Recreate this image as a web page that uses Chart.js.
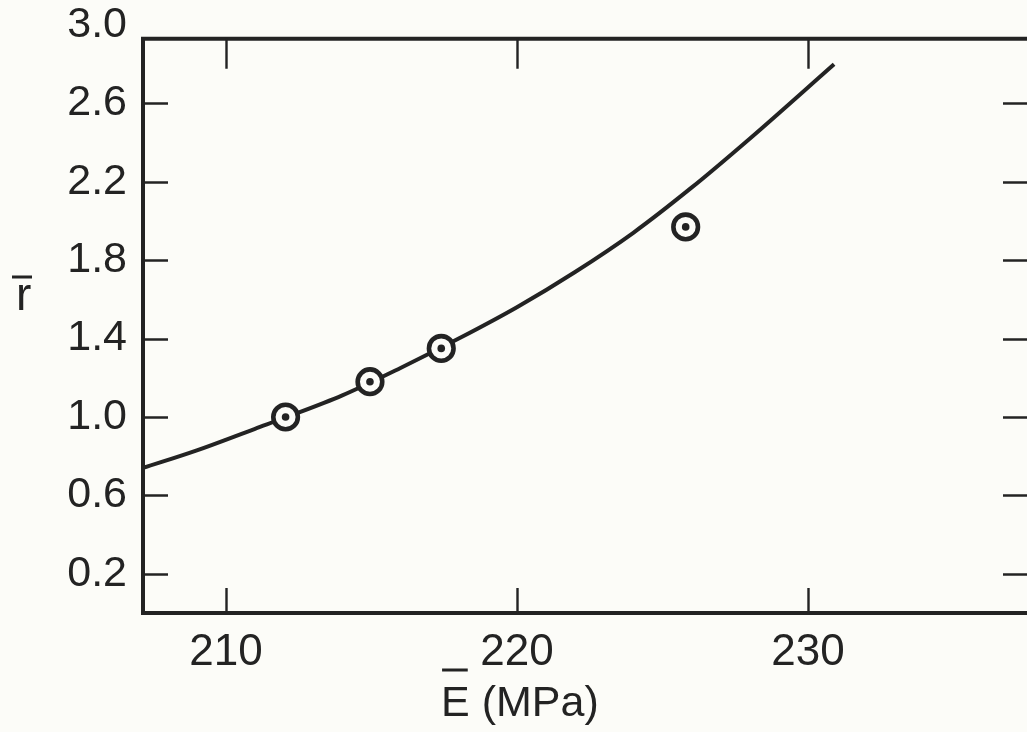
<!DOCTYPE html>
<html>
<head>
<meta charset="utf-8">
<script src="https://cdn.jsdelivr.net/npm/chart.js@4.4.1/dist/chart.umd.min.js"></script>
<style>
  html, body { margin: 0; padding: 0; background: #fcfcf8; overflow: hidden; }
  #wrap { width: 1027px; height: 732px; position: relative; }
</style>
</head>
<body>
<div id="wrap"><canvas id="c" width="1027" height="732"></canvas></div>
<script>
// ---- data ----
const eTicks = [210, 220, 230];                          // x tick labels (MPa)
const rTicks = [0.2, 0.6, 1.0, 1.4, 1.8, 2.2, 2.6, 3.0]; // y tick labels
const rTickMarks = [0.2, 0.6, 1.0, 1.4, 1.8, 2.2, 2.6];  // inward tick marks
const eRange = [207.15, 237.53];
const rRange = [0, 3.0];
const frameTopR = 2.93;                                  // upper frame line

const measuredE = [212.05, 214.95, 217.4, 225.8];
const measuredR = [1.00, 1.18, 1.35, 1.97];

const curveE = [207.15, 209, 211, 212.1, 214, 216, 218, 220, 222, 224, 226, 228, 230.9];
const curveR = [0.74, 0.83, 0.94, 1.00, 1.11, 1.25, 1.40, 1.56, 1.74, 1.94, 2.17, 2.42, 2.80];

const xTitle = 'E (MPa)';
const yTitle = 'r';

// ---- styles ----
const INK = '#232323';
const BG = '#fcfcf8';
const FONT = '"Liberation Sans", Arial, sans-serif';

const measuredPts = measuredE.map((e, i) => ({ x: e, y: measuredR[i] }));
const curvePts = curveE.map((e, i) => ({ x: e, y: curveR[i] }));

const framePlugin = {
  id: 'frame',
  beforeDraw(chart) {
    const ctx = chart.ctx;
    ctx.save();
    ctx.fillStyle = BG;
    ctx.fillRect(0, 0, chart.width, chart.height);
    ctx.restore();
  },
  afterDraw(chart) {
    const ctx = chart.ctx;
    const { left, right, bottom } = chart.chartArea;
    const xs = chart.scales.x, ys = chart.scales.y;
    const top = ys.getPixelForValue(frameTopR);
    ctx.save();
    ctx.strokeStyle = INK;
    ctx.lineCap = 'square';
    // frame
    ctx.lineWidth = 4;
    ctx.beginPath();
    ctx.moveTo(right + 5, top); ctx.lineTo(left, top); ctx.lineTo(left, bottom); ctx.lineTo(right + 5, bottom);
    ctx.stroke();
    // ticks
    ctx.lineWidth = 2.4;
    ctx.lineCap = 'butt';
    ctx.beginPath();
    eTicks.forEach(v => {
      const px = Math.round(xs.getPixelForValue(v)) + 0.5;
      ctx.moveTo(px, bottom); ctx.lineTo(px, bottom - 25);
      ctx.moveTo(px, top); ctx.lineTo(px, top + 30);
    });
    rTickMarks.forEach(v => {
      const py = Math.round(ys.getPixelForValue(v)) + 0.5;
      ctx.moveTo(left, py); ctx.lineTo(left + 25, py);
      ctx.moveTo(right - 24, py); ctx.lineTo(right, py);
    });
    ctx.stroke();
    // axis titles with overbars
    ctx.fillStyle = INK;
    ctx.textBaseline = 'alphabetic';
    ctx.textAlign = 'left';
    ctx.font = '43px ' + FONT;
    const tw = ctx.measureText(xTitle).width;
    const cx = xs.getPixelForValue(220) + 3;
    const tx = cx - tw / 2;
    ctx.fillText(xTitle, tx, 716);
    const ew = ctx.measureText('E').width;
    ctx.lineWidth = 3;
    ctx.beginPath();
    ctx.moveTo(tx + 1, 670); ctx.lineTo(tx + ew - 2, 670);
    ctx.stroke();

    ctx.font = '46px ' + FONT;
    ctx.fillText(yTitle, 16, 310);
    ctx.beginPath();
    ctx.moveTo(12, 277); ctx.lineTo(32, 277);
    ctx.stroke();
    ctx.restore();
  }
};

new Chart(document.getElementById('c'), {
  type: 'scatter',
  data: {
    datasets: [
      { // center dots
        data: measuredPts,
        pointRadius: 3.8,
        pointHoverRadius: 3.8,
        pointBackgroundColor: INK,
        pointBorderWidth: 0,
        order: 0
      },
      { // open circles
        data: measuredPts,
        pointRadius: 12.3,
        pointHoverRadius: 12.3,
        pointBackgroundColor: BG,
        pointBorderColor: INK,
        pointBorderWidth: 4.6,
        order: 1
      },
      { // fitted curve
        type: 'line',
        data: curvePts,
        showLine: true,
        borderColor: INK,
        borderWidth: 4,
        pointRadius: 0,
        fill: false,
        cubicInterpolationMode: 'monotone',
        order: 2
      }
    ]
  },
  options: {
    responsive: false,
    animation: false,
    events: [],
    layout: { autoPadding: false, padding: { top: 25, right: 0, left: 0, bottom: 0 } },
    plugins: { legend: { display: false }, tooltip: { enabled: false } },
    scales: {
      x: {
        type: 'linear',
        min: eRange[0],
        max: eRange[1],
        afterBuildTicks: s => { s.ticks = eTicks.map(v => ({ value: v })); },
        afterFit: s => { s.height = 119; s.paddingLeft = 0; s.paddingRight = 0; },
        grid: { display: false, drawTicks: false },
        border: { display: false },
        ticks: {
          padding: 13,
          color: INK,
          font: { family: FONT, size: 44 },
          callback: v => String(v)
        }
      },
      y: {
        type: 'linear',
        min: rRange[0],
        max: rRange[1],
        afterBuildTicks: s => { s.ticks = rTicks.map(v => ({ value: v })); },
        afterFit: s => { s.width = 143; s.paddingTop = 0; s.paddingBottom = 0; },
        grid: { display: false, drawTicks: false },
        border: { display: false },
        ticks: {
          padding: 16,
          color: INK,
          font: { family: FONT, size: 43 },
          callback: v => v.toFixed(1)
        }
      }
    }
  },
  plugins: [framePlugin]
});
</script>
</body>
</html>
